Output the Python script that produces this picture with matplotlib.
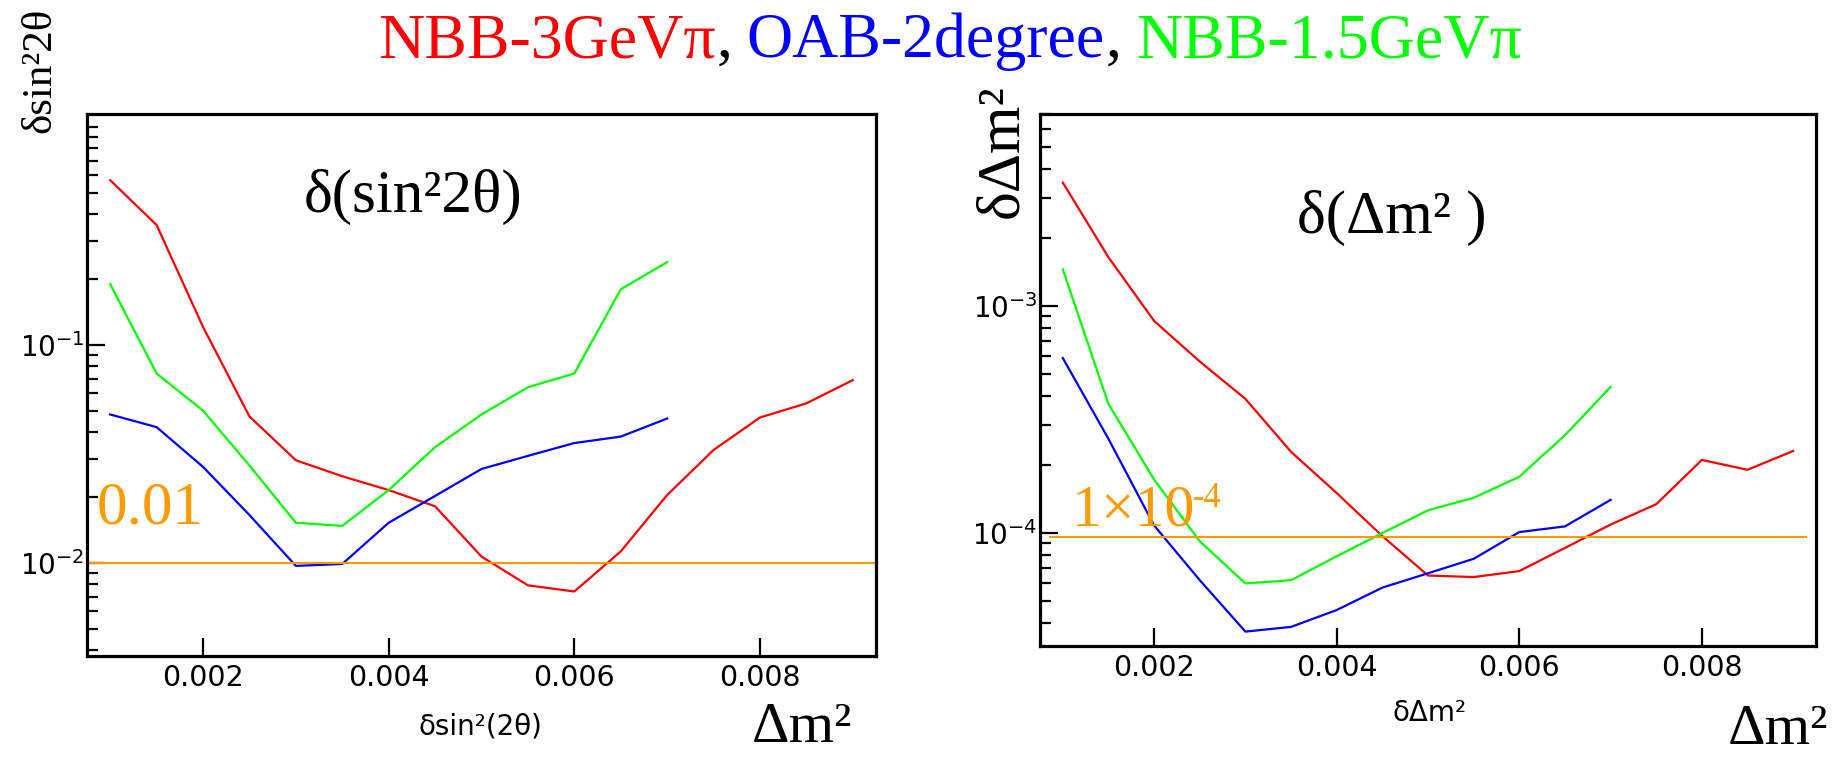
import matplotlib
matplotlib.use("Agg")
import matplotlib.pyplot as plt
from matplotlib.ticker import LogLocator, NullFormatter, LogFormatterMathtext, FixedLocator

# ==========================================
# DATA
# ==========================================
x_short = [0.001, 0.0015, 0.002, 0.0025, 0.003, 0.0035, 0.004, 0.0045,
           0.005, 0.0055, 0.006, 0.0065, 0.007]
x_long = [0.001, 0.0015, 0.002, 0.0025, 0.003, 0.0035, 0.004, 0.0045,
          0.005, 0.0055, 0.006, 0.0065, 0.007, 0.0075, 0.008, 0.0085, 0.009]

# delta(sin^2 2theta)
red_sin = [0.57, 0.355, 0.121, 0.047, 0.0296, 0.025, 0.0216, 0.0182, 0.0107,
           0.0079, 0.0074, 0.0113, 0.0205, 0.033, 0.0465, 0.054, 0.069]
blue_sin = [0.048, 0.042, 0.0276, 0.0166, 0.0097, 0.0099, 0.0153, 0.0203,
            0.027, 0.031, 0.0355, 0.038, 0.046]
green_sin = [0.19, 0.074, 0.050, 0.028, 0.0153, 0.0148, 0.0216, 0.034, 0.048,
             0.064, 0.074, 0.18, 0.24]

# delta(dm^2)
red_dm = [0.0035, 0.00164, 0.00086, 0.00057, 0.00039, 0.000228, 0.00015,
          0.000097, 0.000065, 0.000064, 0.000068, 0.000086, 0.000109,
          0.000134, 0.00021, 0.00019, 0.00023]
blue_dm = [0.00059, 0.00026, 0.000108, 0.000062, 0.0000368, 0.0000386,
           0.0000458, 0.0000575, 0.0000665, 0.000077, 0.000101, 0.000107, 0.00014]
green_dm = [0.00145, 0.00037, 0.000172, 0.000092, 0.00006, 0.000062, 0.000079,
            0.0001, 0.000126, 0.000143, 0.000177, 0.00027, 0.00044]

thr_sin = 0.01
thr_dm = 0.96e-4

xticks = [0.002, 0.004, 0.006, 0.008]
xtick_labels = ["0.002", "0.004", "0.006", "0.008"]
yticks_sin = [0.01, 0.1]
yticks_dm = [1e-4, 1e-3]

RED, BLUE, GREEN, ORANGE = "#ff0000", "#0000ff", "#00ff00", "#ff9900"
SERIF = "Liberation Serif"

plt.rcParams['font.family'] = ['DejaVu Sans']

W, H = 1841, 757
fig = plt.figure(figsize=(W / 100, H / 100), dpi=100)

axL = fig.add_axes([87 / W, 1 - 656 / H, (876 - 87) / W, (656 - 114) / H])
axR = fig.add_axes([1040 / W, 1 - 646 / H, (1816 - 1040) / W, (646 - 114) / H])


def style_axis(ax, ylim, yticks):
    ax.set_yscale('log')
    ax.set_xlim(0.00075, 0.00925)
    ax.set_ylim(*ylim)
    ax.set_xticks(xticks)
    ax.set_xticklabels(xtick_labels)
    ax.yaxis.set_major_locator(FixedLocator(yticks))
    ax.yaxis.set_minor_locator(LogLocator(base=10, subs=[1, 2, 3, 4, 5, 6, 7, 8, 9], numticks=20))
    ax.yaxis.set_major_formatter(LogFormatterMathtext())
    ax.yaxis.set_minor_formatter(NullFormatter())
    ax.tick_params(which='both', direction='in', top=False, right=False, width=1.6, color='black')
    ax.tick_params(which='major', length=13)
    ax.tick_params(which='minor', length=8)
    ax.tick_params(axis='x', labelsize=20.5, pad=6)
    ax.tick_params(axis='y', labelsize=20, pad=2)
    for sp in ax.spines.values():
        sp.set_linewidth(2.3)


style_axis(axL, (0.003745, 1.147), yticks_sin)
style_axis(axR, (3.18e-5, 7.02e-3), yticks_dm)

# Panel 1: delta(sin^2 2theta)
axL.plot(x_long, red_sin, color=RED, lw=1.6)
axL.plot(x_short, blue_sin, color=BLUE, lw=1.6)
axL.plot(x_short, green_sin, color=GREEN, lw=1.6)
axL.axhline(thr_sin, color=ORANGE, lw=1.5)

# Panel 2: delta(dm^2)
axR.plot(x_long, red_dm, color=RED, lw=1.6)
axR.plot(x_short, blue_dm, color=BLUE, lw=1.6)
axR.plot(x_short, green_dm, color=GREEN, lw=1.6)
axR.hlines(thr_dm, 0.00085, 0.00915, color=ORANGE, lw=1.5)

# inner titles and threshold labels
fig.text(413 / W, 1 - 197 / H, "δ(sin²2θ)", fontsize=44, family=SERIF, ha='center', va='center')
fig.text(1392 / W, 1 - 218 / H, "δ(Δm² )", fontsize=44, family=SERIF, ha='center', va='center')
fig.text(97 / W, 1 - 523 / H, "0.01", fontsize=44, family=SERIF, color=ORANGE, va='baseline')
fig.text(1072 / W, 1 - 525 / H, "1×10", fontsize=43, family=SERIF, color=ORANGE, va='baseline')
fig.text(1193 / W, 1 - 482 / H, "-4", fontsize=25, family=SERIF, color=ORANGE, va='top')

# axis titles
fig.text(40 / W, 1 - 70 / H, "δsin²2θ", fontsize=31, family=SERIF, rotation=90, ha='center', va='center')
fig.text(1002 / W, 1 - 151 / H, "δΔm²", fontsize=44, family=SERIF, rotation=90, ha='center', va='center')
fig.text(480 / W, 1 - 727 / H, "δsin²(2θ)", fontsize=20, ha='center', va='center')
fig.text(1430 / W, 1 - 713 / H, "δΔm²", fontsize=20, ha='center', va='center')
fig.text(852 / W, 1 - 742 / H, "Δm²", fontsize=42, family=SERIF, ha='right', va='baseline')
fig.text(1828 / W, 1 - 744 / H, "Δm²", fontsize=42, family=SERIF, ha='right', va='baseline')

# multi-coloured heading
parts = [("NBB-3GeVπ", RED), (",", "black"), ("OAB-2degree", BLUE), (",", "black"), ("NBB-1.5GeVπ", GREEN)]
gaps = [0, 1, 14, 1, 14]
t0 = fig.text(0.2, 1 - 57 / H, parts[0][0], color=parts[0][1], fontsize=46, family=SERIF, va='baseline')
title_texts = [t0]
for (s, c), g in zip(parts[1:], gaps[1:]):
    t = plt.annotate(s, xy=(1, 0), xycoords=title_texts[-1], xytext=(g, 0), textcoords='offset pixels',
                     color=c, fontsize=46, family=SERIF, va='bottom', ha='left', annotation_clip=False)
    title_texts.append(t)

fig.canvas.draw()
r = fig.canvas.get_renderer()
left = title_texts[0].get_window_extent(r).x0
right = title_texts[-1].get_window_extent(r).x1
shift = (950 - (left + right) / 2) / W
t0.set_x(t0.get_position()[0] + shift)

plt.savefig("out.png", dpi=100)
